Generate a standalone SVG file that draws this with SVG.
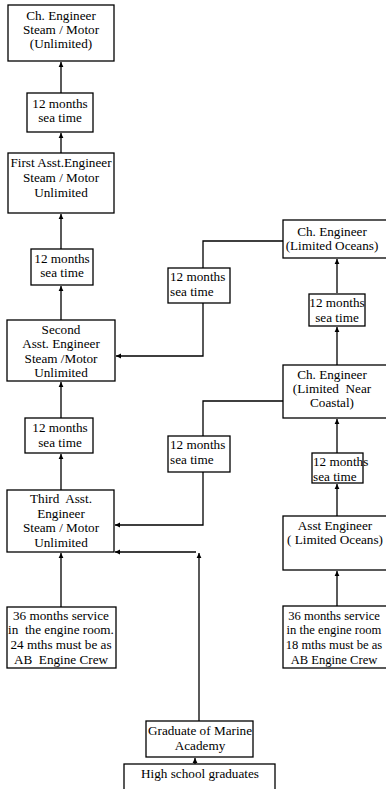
<svg xmlns="http://www.w3.org/2000/svg" width="386" height="789" viewBox="0 0 386 789">
<defs>
<marker id="ah" markerWidth="6" markerHeight="6" refX="5" refY="3" orient="auto" markerUnits="userSpaceOnUse">
<path d="M0,0.6 L5,3 L0,5.4 Z" fill="#000"/>
</marker>
</defs>
<style>
rect{fill:#fff;stroke:#000;stroke-width:1.3}
text{font-family:"Liberation Serif","Times New Roman",serif;font-size:13.2px;fill:#000;white-space:pre}
.c{text-anchor:middle}
.l{text-anchor:start}
.s{font-size:12.6px}
.e{fill:none;stroke:#000;stroke-width:1.3}
</style>
<rect x="0" y="0" width="386" height="789" style="fill:#fff;stroke:none"/>
<g id="connectors">
<path class="e" d="M61,93 V62" marker-end="url(#ah)"/>
<path class="e" d="M61,153 V133" marker-end="url(#ah)"/>
<path class="e" d="M61,249 V214" marker-end="url(#ah)"/>
<path class="e" d="M61,320 V286" marker-end="url(#ah)"/>
<path class="e" d="M61,418 V382" marker-end="url(#ah)"/>
<path class="e" d="M61,490 V454" marker-end="url(#ah)"/>
<path class="e" d="M61,607 V553" marker-end="url(#ah)"/>
<path class="e" d="M283,241 H203 V268"/>
<path class="e" d="M203,303 V356 H116" marker-end="url(#ah)"/>
<path class="e" d="M283,401 H203 V436"/>
<path class="e" d="M203,472 V525 H115" marker-end="url(#ah)"/>
<path class="e" d="M337,293 V259" marker-end="url(#ah)"/>
<path class="e" d="M337,365 V327" marker-end="url(#ah)"/>
<path class="e" d="M337,453 V419" marker-end="url(#ah)"/>
<path class="e" d="M337,516 V484" marker-end="url(#ah)"/>
<path class="e" d="M337,606 V571" marker-end="url(#ah)"/>
<path class="e" d="M199,721 V553" marker-end="url(#ah)"/>
<path class="e" d="M196,552 H115" marker-end="url(#ah)"/>
<path class="e" d="M195,764 V758" marker-end="url(#ah)"/>
</g>
<g id="n1"><rect x="8" y="5" width="106" height="56"/>
<text class="c" x="61" y="20">Ch. Engineer</text><text class="c" x="61" y="34">Steam / Motor</text><text class="c" x="61" y="48">(Unlimited)</text></g>
<g id="n2"><rect x="27" y="93" width="66" height="39"/>
<text class="c" x="60" y="108">12 months</text><text class="c" x="60" y="122">sea time</text></g>
<g id="n3"><rect x="8" y="153" width="106" height="60"/>
<text class="c" x="61" y="167">First Asst.Engineer</text><text class="c" x="61" y="182">Steam / Motor</text><text class="c" x="61" y="197">Unlimited</text></g>
<g id="n4"><rect x="31" y="249" width="62" height="36"/>
<text class="c" x="62" y="263">12 months</text><text class="c" x="62" y="277">sea time</text></g>
<g id="n5"><rect x="7" y="320" width="108" height="61"/>
<text class="c" x="61" y="334">Second</text><text class="c" x="61" y="348">Asst. Engineer</text><text class="c" x="61" y="363">Steam /Motor</text><text class="c" x="61" y="377">Unlimited</text></g>
<g id="n6"><rect x="25" y="418" width="68" height="35"/>
<text class="c" x="60" y="432">12 months</text><text class="c" x="60" y="447">sea time</text></g>
<g id="n7"><rect x="7" y="490" width="107" height="62"/>
<text class="c" x="61" y="503">Third  Asst.</text><text class="c" x="61" y="518">Engineer</text><text class="c" x="61" y="532">Steam / Motor</text><text class="c" x="61" y="547">Unlimited</text></g>
<g id="n8"><rect x="7" y="607" width="109" height="61"/>
<text class="c" x="61" y="620">36 months service</text><text class="c" x="61" y="634">in  the engine room.</text><text class="c" x="61" y="649">24 mths must be as</text><text class="c" x="61" y="664">AB  Engine Crew</text></g>
<g id="m1"><rect x="168" y="268" width="62" height="35"/>
<text class="l" x="170" y="281">12 months</text><text class="l" x="170" y="296">sea time</text></g>
<g id="m2"><rect x="168" y="436" width="62" height="36"/>
<text class="l" x="170" y="449">12 months</text><text class="l" x="170" y="464">sea time</text></g>
<g id="r1"><rect x="283" y="220" width="110" height="38"/>
<text class="c" x="332" y="236">Ch. Engineer</text><text class="c" x="332" y="250">(Limited Oceans)</text></g>
<g id="r2"><rect x="309" y="294" width="56" height="32"/>
<text class="c" x="337" y="307">12 months</text><text class="c" x="337" y="322">sea time</text></g>
<g id="r3"><rect x="283" y="365" width="110" height="53"/>
<text class="c" x="332" y="379">Ch. Engineer</text><text class="c" x="332" y="393">(Limited  Near</text><text class="c" x="332" y="407">Coastal)</text></g>
<g id="r4"><rect x="312" y="453" width="51" height="30"/>
<text class="l" x="313" y="466">12 months</text><text class="l" x="313" y="481">sea time</text></g>
<g id="r5"><rect x="283" y="516" width="110" height="54"/>
<text class="c" x="335" y="530">Asst Engineer</text><text class="c" x="335" y="544">( Limited Oceans)</text></g>
<g id="r6"><rect x="283" y="606" width="110" height="62"/>
<text class="c s" x="334" y="620">36 months service</text><text class="c s" x="334" y="634">in the engine room</text><text class="c s" x="334" y="649">18 mths must be as</text><text class="c s" x="334" y="664">AB Engine Crew</text></g>
<g id="g1"><rect x="146" y="721" width="107" height="36"/>
<text class="c" x="200" y="735">Graduate of Marine</text><text class="c" x="200" y="750">Academy</text></g>
<g id="h1"><rect x="124" y="764" width="151" height="40"/>
<text class="c" x="200" y="778">High school graduates</text></g>
</svg>
